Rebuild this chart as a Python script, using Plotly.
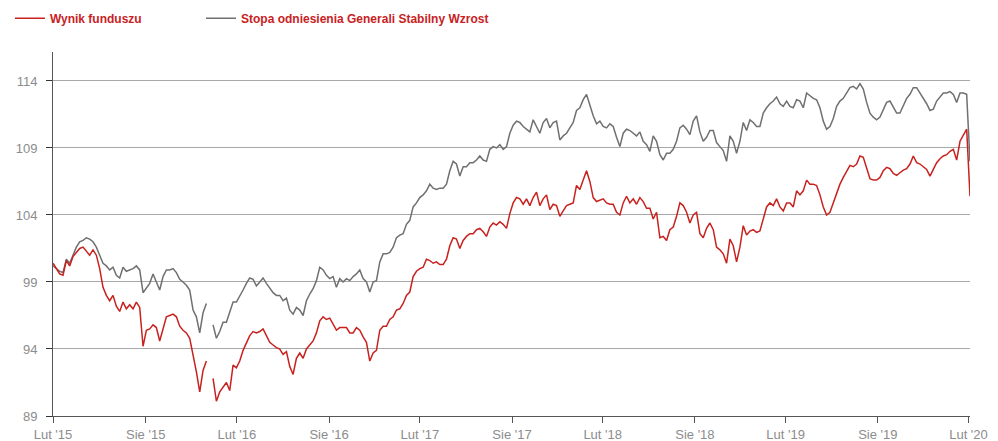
import pandas as pd
import plotly.graph_objects as go

# ---- data -------------------------------------------------------------
start_date = "2015-02-27"
end_date = "2020-03-02"

tick_dates = ["2015-02-27", "2015-08-31", "2016-02-29", "2016-08-31", "2017-02-28",
              "2017-08-31", "2018-02-28", "2018-08-31", "2019-02-28", "2019-08-31",
              "2020-02-28"]
tick_labels = ["Lut '15", "Sie '15", "Lut '16", "Sie '16", "Lut '17", "Sie '17",
               "Lut '18", "Sie '18", "Lut '19", "Sie '19", "Lut '20"]
y_ticks = [89, 94, 99, 104, 109, 114]

series_names = ["Wynik funduszu", "Stopa odniesienia Generali Stabilny Wzrost"]

# Wynik funduszu (roughly weekly readings)
fund = [
    100.4, 100.0, 99.6, 99.5, 100.6, 100.2, 100.9, 101.2, 101.5, 101.6,
    101.3, 101.0, 101.4, 101.0, 100.0, 98.6, 98.0, 97.6, 98.0, 97.2,
    96.8, 97.5, 97.0, 97.3, 97.0, 97.5, 97.1, 94.2, 95.4, 95.5,
    95.8, 95.6, 94.6, 95.6, 96.4, 96.5,
    96.6, 96.4, 95.7, 95.4, 95.2, 94.8, 93.6, 92.3, 90.8, 92.4,
    93.1, None, 91.8, 90.1, 90.8, 91.2, 91.5, 90.9, 92.8, 92.6,
    93.1, 93.9, 94.5, 95.0, 95.3, 95.2, 95.3, 95.5, 95.0, 94.5,
    94.3, 94.1,
    94.0, 93.6, 93.8, 92.7, 92.1, 93.3, 93.7, 93.3, 94.0, 94.3,
    94.6, 95.2, 96.1, 96.4, 96.2, 96.3, 95.8, 95.4, 95.6, 95.6,
    95.6, 95.2, 95.2, 95.6, 95.4, 94.9, 94.5, 93.1, 93.7, 93.9,
    95.4, 95.7, 95.7, 96.2, 96.4, 96.9, 97.0, 97.4, 98.0, 98.25,
    99.4, 99.8, 100.0, 100.1, 100.7, 100.6, 100.4, 100.5, 100.3, 100.3,
    100.7, 101.7, 102.3, 102.2, 101.5, 102.1, 102.4, 102.6, 102.6, 102.9,
    103.0, 102.75, 102.4, 103.1, 103.4, 103.25, 103.5, 103.3,
    103.0, 104.1, 104.9, 105.3, 105.2, 104.8, 105.2, 104.7, 105.3, 105.7,
    104.7, 105.2, 105.5, 104.4, 104.8, 104.7, 103.9, 104.3, 104.7, 104.8,
    104.9, 106.2, 105.9, 106.6, 107.3, 106.5, 105.3, 105.0, 105.1, 105.2,
    104.9, 104.8, 104.8, 104.2, 104.0, 104.9, 105.4, 104.9,
    105.2, 104.8, 105.3, 105.0, 104.5, 104.5, 103.7, 104.2, 102.3, 102.4,
    102.1, 102.9, 103.1, 103.9, 104.9, 104.7, 104.2, 103.4, 104.0, 104.2,
    102.6, 102.3, 103.0, 103.4, 102.9, 101.6, 101.4, 101.1, 100.4, 102.2,
    101.7, 100.5, 101.6, 103.2, 102.5, 102.8,
    102.9, 102.7, 102.8, 103.75, 104.6, 104.9, 104.7, 105.2, 104.6, 104.3,
    104.9, 104.9, 104.6, 105.8, 105.5, 105.8, 106.6, 106.3, 106.3, 106.2,
    105.5, 104.6, 104.0, 104.2, 104.9, 105.6, 106.3, 106.8, 107.3, 107.7,
    107.6, 107.8, 108.4, 108.3, 107.5, 106.7,
    106.6, 106.6, 106.8, 107.3, 107.55, 107.45, 107.1, 106.95, 107.15, 107.35,
    107.45, 107.8, 108.4, 107.9, 107.8, 107.6, 107.4, 106.9, 107.4, 107.9,
    108.2, 108.4, 108.5, 108.75, 108.9, 108.1, 109.5, 109.9, 110.4, 105.4,
]

# Stopa odniesienia (benchmark)
benchmark = [
    100.2, 100.0, 99.8, 99.7, 100.7, 100.4, 101.0, 101.6, 102.0, 102.1,
    102.3, 102.2, 102.0, 101.6, 101.0, 100.4, 100.2, 99.9, 100.1, 99.5,
    99.3, 100.1, 99.8, 99.9, 100.0, 100.2, 99.9, 98.2, 98.6, 98.9,
    99.6, 99.0, 98.4, 99.4, 99.9, 99.9,
    100.0, 99.7, 99.2, 99.0, 98.75, 98.4, 96.9, 96.4, 95.2, 96.7,
    97.4, None, 95.8, 94.8, 95.3, 96.0, 96.0, 96.7, 97.5, 97.5,
    97.9, 98.4, 98.9, 99.3, 99.2, 98.7, 99.0, 99.3, 98.9, 98.5,
    98.2, 98.0,
    98.0, 97.6, 97.8, 96.9, 96.6, 97.1, 96.9, 96.5, 97.6, 98.1,
    98.5, 99.1, 100.1, 99.9, 99.5, 99.25, 99.4, 98.6, 99.25, 99.0,
    99.25, 99.1, 99.4, 99.6, 99.9, 99.25, 99.0, 98.25, 99.0, 99.1,
    100.5, 101.1, 101.1, 101.2, 101.6, 102.3, 102.5, 102.6, 103.3, 103.6,
    104.6, 104.9, 105.3, 105.5, 105.8, 106.3, 106.0, 105.9, 106.0, 106.0,
    106.3, 107.3, 108.0, 107.8, 106.9, 107.6, 107.6, 107.9, 107.9, 108.1,
    108.4, 108.1, 108.0, 108.9, 109.1, 109.0, 109.25, 108.9,
    109.1, 110.1, 110.7, 111.0, 110.9, 110.6, 110.4, 110.2, 111.1, 110.6,
    110.1, 110.9, 111.2, 110.5, 110.9, 111.0, 109.6, 109.9, 110.1, 110.5,
    110.9, 111.8, 112.0, 112.6, 113.0, 112.2, 111.4, 110.8, 111.0, 110.6,
    110.5, 110.8, 110.6, 109.8, 109.1, 110.1, 110.4, 110.3,
    110.1, 109.9, 110.2, 109.5, 109.25, 108.75, 109.9, 109.5, 108.5, 108.1,
    108.6, 108.6, 108.9, 109.5, 110.5, 110.7, 110.4, 110.0, 111.0, 111.4,
    110.2, 109.5, 109.8, 110.3, 110.3, 109.4, 109.1, 108.8, 108.0, 109.9,
    109.5, 108.6, 109.5, 110.9, 110.3, 111.1,
    110.9, 110.6, 110.6, 111.6, 112.0, 112.3, 112.5, 112.8, 112.3, 112.1,
    112.5, 112.1, 112.0, 112.6, 112.5, 112.0, 113.1, 112.9, 112.7, 112.6,
    112.0, 111.0, 110.4, 110.6, 111.2, 112.1, 112.5, 112.7, 113.1, 113.5,
    113.6, 113.4, 113.8, 113.4, 112.4, 111.6,
    111.3, 111.1, 111.3, 111.9, 112.4, 112.5, 112.0, 111.6, 111.6, 112.1,
    112.7, 113.0, 113.5, 113.5, 113.1, 112.8, 112.3, 111.8, 111.9, 112.5,
    112.8, 113.1, 113.1, 113.2, 113.0, 112.4, 113.1, 113.1, 113.0, 108.0,
]

dates = pd.date_range(start_date, end_date, periods=len(fund))

# ---- figure -----------------------------------------------------------
RED = "#c8221f"
GRAY = "#707073"
NARROW = "Liberation Sans Narrow, Arial Narrow, sans-serif"
TICK_FONT = dict(family=NARROW, size=13, color="#8c8c8c")
LEGEND_FONT = dict(family=NARROW, size=12, color=RED, weight="bold")

fig = go.Figure()
fig.add_trace(go.Scatter(
    x=dates, y=benchmark, name=series_names[1], mode="lines",
    line=dict(color=GRAY, width=1.5), legend="legend2", connectgaps=False,
))
fig.add_trace(go.Scatter(
    x=dates, y=fund, name=series_names[0], mode="lines",
    line=dict(color=RED, width=1.5), legend="legend", connectgaps=False,
))

legend_common = dict(
    orientation="h", yanchor="middle", y=1.093, xanchor="left",
    font=LEGEND_FONT, bgcolor="rgba(0,0,0,0)", borderwidth=0,
)

# the page body adds an 8 px offset, so the figure is 8 px smaller each way
fig.update_layout(
    width=990, height=433,
    margin=dict(l=45, r=28, t=44, b=25, autoexpand=False),
    paper_bgcolor="white", plot_bgcolor="white",
    showlegend=True,
    legend=dict(x=-0.047, **legend_common),
    legend2=dict(x=0.1614, **legend_common),
    xaxis=dict(
        type="date", range=[start_date, end_date],
        tickmode="array", tickvals=tick_dates, ticktext=tick_labels,
        showgrid=False, zeroline=False,
        showline=True, linecolor="#555555", linewidth=1,
        ticks="outside", ticklen=6, tickcolor="#555555", tickwidth=1,
        tickfont=TICK_FONT,
    ),
    yaxis=dict(
        range=[89, 116.16],
        tickmode="array", tickvals=y_ticks,
        showgrid=True, gridcolor="#a8a8a8", gridwidth=1,
        zeroline=False,
        showline=True, linecolor="#555555", linewidth=1,
        ticks="outside", ticklen=6, tickcolor="#333333", tickwidth=1,
        tickfont=TICK_FONT, ticklabelstandoff=6,
    ),
)

fig.write_html("out.html")
